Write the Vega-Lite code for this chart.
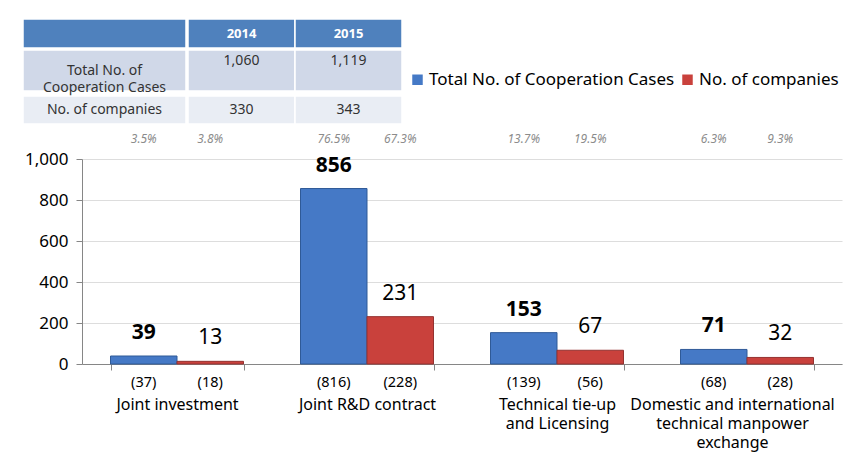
{
  "$schema": "https://vega.github.io/schema/vega-lite/v6.json",
  "padding": {"left": 22, "top": 18, "right": 8, "bottom": 5},
  "background": "white",
  "config": {"font": "Noto Sans", "view": {"stroke": null}},
  "spacing": 8,
  "datasets": {
    "table": [
      {"row": "header", "col": "label", "text": ""},
      {"row": "header", "col": "y2014", "text": "2014"},
      {"row": "header", "col": "y2015", "text": "2015"},
      {"row": "cases", "col": "label", "text": "Total No. of\nCooperation Cases"},
      {"row": "cases", "col": "y2014", "text": "1,060"},
      {"row": "cases", "col": "y2015", "text": "1,119"},
      {"row": "companies", "col": "label", "text": "No. of companies"},
      {"row": "companies", "col": "y2014", "text": "330"},
      {"row": "companies", "col": "y2015", "text": "343"}
    ],
    "bars": [
      {"category": "Joint investment", "series": "Total No. of Cooperation Cases", "value": 39, "prev": 37, "share": 0.035},
      {"category": "Joint investment", "series": "No. of companies", "value": 13, "prev": 18, "share": 0.038},
      {"category": "Joint R&D contract", "series": "Total No. of Cooperation Cases", "value": 856, "prev": 816, "share": 0.765},
      {"category": "Joint R&D contract", "series": "No. of companies", "value": 231, "prev": 228, "share": 0.673},
      {"category": "Technical tie-up and Licensing", "series": "Total No. of Cooperation Cases", "value": 153, "prev": 139, "share": 0.137},
      {"category": "Technical tie-up and Licensing", "series": "No. of companies", "value": 67, "prev": 56, "share": 0.195},
      {"category": "Domestic and international technical manpower exchange", "series": "Total No. of Cooperation Cases", "value": 71, "prev": 68, "share": 0.063},
      {"category": "Domestic and international technical manpower exchange", "series": "No. of companies", "value": 32, "prev": 28, "share": 0.093}
    ]
  },
  "vconcat": [
    {
      "spacing": 0,
      "vconcat": [
        {
          "spacing": 0,
          "hconcat": [
            {
              "width": 163, "height": 29,
              "data": {"name": "table"},
              "transform": [{"filter": "datum.row === 'header' && datum.col === 'label'"}],
              "layer": [
                {"mark": {"type": "rect", "stroke": "white", "strokeWidth": 1.5, "color": "#4F81BD"}, "encoding": {}},
                {"mark": {"type": "text", "fontWeight": "bold", "color": "white", "fontSize": 13}, "encoding": {"text": {"field": "text"}}}
              ]
            },
            {
              "width": 214, "height": 29,
              "data": {"name": "table"},
              "transform": [{"filter": "datum.row === 'header' && datum.col !== 'label'"}],
              "encoding": {
                "x": {"field": "col", "type": "nominal", "sort": ["y2014", "y2015"], "axis": null, "scale": {"paddingInner": 0, "paddingOuter": 0}}
              },
              "layer": [
                {"mark": {"type": "rect", "stroke": "white", "strokeWidth": 1.5, "color": "#4F81BD"}, "encoding": {}},
                {"mark": {"type": "text", "fontWeight": "bold", "color": "white", "fontSize": 13}, "encoding": {"text": {"field": "text"}}}
              ]
            }
          ]
        },
        {
          "spacing": 0,
          "hconcat": [
            {
              "width": 163, "height": 41,
              "data": {"name": "table"},
              "transform": [{"filter": "datum.row === 'cases' && datum.col === 'label'"}],
              "layer": [
                {"mark": {"type": "rect", "stroke": "white", "strokeWidth": 1.5, "color": "#D0D8E8"}, "encoding": {}},
                {"mark": {"type": "text", "color": "#333333", "fontSize": 14, "lineBreak": "\n", "lineHeight": 17}, "encoding": {"text": {"field": "text"}}}
              ]
            },
            {
              "width": 214, "height": 41,
              "data": {"name": "table"},
              "transform": [{"filter": "datum.row === 'cases' && datum.col !== 'label'"}],
              "encoding": {
                "x": {"field": "col", "type": "nominal", "sort": ["y2014", "y2015"], "axis": null, "scale": {"paddingInner": 0, "paddingOuter": 0}}
              },
              "layer": [
                {"mark": {"type": "rect", "stroke": "white", "strokeWidth": 1.5, "color": "#D0D8E8"}, "encoding": {}},
                {"mark": {"type": "text", "color": "#333333", "fontSize": 14, "dy": -10}, "encoding": {"text": {"field": "text"}}}
              ]
            }
          ]
        },
        {
          "spacing": 0,
          "hconcat": [
            {
              "width": 163, "height": 28,
              "data": {"name": "table"},
              "transform": [{"filter": "datum.row === 'companies' && datum.col === 'label'"}],
              "layer": [
                {"mark": {"type": "rect", "stroke": "white", "strokeWidth": 1.5, "color": "#E9EDF4"}, "encoding": {}},
                {"mark": {"type": "text", "color": "#333333", "fontSize": 14}, "encoding": {"text": {"field": "text"}}}
              ]
            },
            {
              "width": 214, "height": 28,
              "data": {"name": "table"},
              "transform": [{"filter": "datum.row === 'companies' && datum.col !== 'label'"}],
              "encoding": {
                "x": {"field": "col", "type": "nominal", "sort": ["y2014", "y2015"], "axis": null, "scale": {"paddingInner": 0, "paddingOuter": 0}}
              },
              "layer": [
                {"mark": {"type": "rect", "stroke": "white", "strokeWidth": 1.5, "color": "#E9EDF4"}, "encoding": {}},
                {"mark": {"type": "text", "color": "#333333", "fontSize": 14}, "encoding": {"text": {"field": "text"}}}
              ]
            }
          ]
        }
      ]
    },
    {
      "spacing": 0,
      "hconcat": [
        {
          "width": 1, "height": 205,
          "data": {"values": [{}]},
          "mark": {"type": "text", "text": ""},
          "encoding": {}
        },
        {
          "width": 760,
          "height": 205,
          "data": {"name": "bars"},
          "encoding": {
            "x": {
              "field": "category", "type": "nominal",
              "sort": ["Joint investment", "Joint R&D contract", "Technical tie-up and Licensing", "Domestic and international technical manpower exchange"],
              "scale": {"paddingInner": 0.3, "paddingOuter": 0.15},
              "axis": {
                "title": null, "tickBand": "extent", "tickSize": 6, "labelPadding": 26,
                "labelFontSize": 16, "labelLineHeight": 19, "labelColor": "black",
                "labelLimit": 400, "labelOverlap": false, "labelAngle": 0,
                "labelOffset": {"condition": {"test": "datum.value === 'Domestic and international technical manpower exchange'", "value": -15}, "value": 0},
                "domainColor": "#868686", "tickColor": "#868686", "grid": false,
                "labelExpr": "datum.value === 'Technical tie-up and Licensing' ? ['Technical tie-up', 'and Licensing'] : datum.value === 'Domestic and international technical manpower exchange' ? ['Domestic and international', 'technical manpower', 'exchange'] : datum.label"
              }
            },
            "xOffset": {"field": "series", "type": "nominal", "sort": ["Total No. of Cooperation Cases", "No. of companies"], "scale": {"paddingInner": 0, "paddingOuter": 0}}
          },
          "layer": [
            {
              "mark": {"type": "bar", "strokeWidth": 1},
              "encoding": {
                "y": {
                  "field": "value", "type": "quantitative",
                  "scale": {"domain": [0, 1000], "nice": false},
                  "axis": {
                    "title": null, "values": [0, 200, 400, 600, 800, 1000], "format": ",d",
                    "labelFontSize": 17, "labelColor": "black", "tickSize": 6, "labelPadding": 8,
                    "domainColor": "#868686", "tickColor": "#868686", "gridColor": "#DDDDDD"
                  }
                },
                "color": {
                  "field": "series", "type": "nominal",
                  "scale": {"domain": ["Total No. of Cooperation Cases", "No. of companies"], "range": ["#4579C6", "#C9413C"]},
                  "legend": {
                    "title": null, "orient": "none", "direction": "horizontal",
                    "legendX": 386, "legendY": 52,
                    "symbolType": "square", "symbolSize": 110, "symbolStrokeWidth": 0,
                    "labelFontSize": 17, "labelColor": "black", "labelLimit": 400, "columnPadding": 4, "labelOffset": 3
                  }
                },
                "stroke": {
                  "field": "series", "type": "nominal",
                  "scale": {"domain": ["Total No. of Cooperation Cases", "No. of companies"], "range": ["#2F5A97", "#943230"]},
                  "legend": null
                }
              }
            },
            {
              "transform": [{"filter": "datum.series === 'Total No. of Cooperation Cases'"}],
              "mark": {"type": "text", "fontWeight": "bold", "fontSize": 21, "dy": -17, "baseline": "alphabetic", "color": "black"},
              "encoding": {"y": {"field": "value", "type": "quantitative"}, "text": {"field": "value", "type": "quantitative"}}
            },
            {
              "transform": [{"filter": "datum.series === 'No. of companies'"}],
              "mark": {"type": "text", "fontSize": 21, "dy": -17, "baseline": "alphabetic", "color": "black"},
              "encoding": {"y": {"field": "value", "type": "quantitative"}, "text": {"field": "value", "type": "quantitative"}}
            },
            {
              "transform": [{"calculate": "'(' + datum.prev + ')'", "as": "prevLabel"}],
              "mark": {"type": "text", "fontSize": 14.5, "dy": 19, "baseline": "middle", "color": "black"},
              "encoding": {"y": {"datum": 0}, "text": {"field": "prevLabel"}}
            },
            {
              "mark": {"type": "text", "fontSize": 12, "fontStyle": "italic", "dy": -20, "baseline": "middle", "color": "#8C8C8C"},
              "encoding": {"y": {"datum": 1000}, "text": {"field": "share", "type": "quantitative", "format": ".1%"}}
            }
          ]
        }
      ]
    }
  ]
}
